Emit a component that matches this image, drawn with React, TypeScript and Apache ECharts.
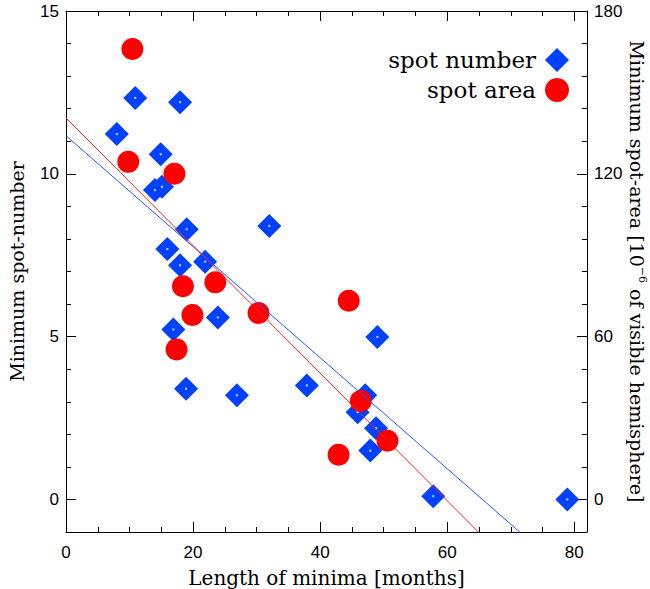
import React, { useEffect, useRef } from "react";
import * as echarts from "echarts";

// Length of minima [months] and minimum spot-number (blue diamonds)
const spotNumberX = [8.0, 10.9, 17.95, 14.9, 14.0, 15.1, 19.0, 15.95, 17.95, 21.9, 32.0, 16.9, 23.9, 18.9, 26.9, 37.9, 49.0, 47.1, 45.9, 48.8, 47.9, 57.8, 78.9];
const spotNumberY = [11.22, 12.33, 12.2, 10.6, 9.5, 9.6, 8.3, 7.69, 7.19, 7.3, 8.4, 5.22, 5.59, 3.4, 3.2, 3.5, 4.99, 3.2, 2.68, 2.19, 1.5, 0.1, 0.0];

// Length of minima and minimum spot-area [1e-6 hemisphere] (red circles)
const spotAreaX = [10.45, 9.8, 17.06, 18.4, 23.5, 19.9, 17.4, 30.3, 44.5, 46.4, 50.6, 42.9];
const spotAreaY = [166, 124.4, 120, 78.6, 80, 68, 55.3, 68.7, 73.2, 36.3, 21.6, 16.5];

// Linear fits (endpoints)
const numberFit = [[0, 11.17], [71.4, -1]];
const areaFit = [[0, 140.6], [64.9, -12]];

const leftTicks = [0, 5, 10, 15];
const rightTicks = [0, 60, 120, 180];

const serif = "DejaVu Serif";
const sans = "Liberation Sans";

export default function App() {
  const ref = useRef<HTMLDivElement>(null);
  useEffect(() => {
    if (!ref.current) return;
    const chart = echarts.init(ref.current, undefined, { renderer: "svg" });
    const numberData = spotNumberX.map((x, i) => [x, spotNumberY[i]]);
    const areaData = spotAreaX.map((x, i) => [x, spotAreaY[i]]);
    const axisLine = { show: true, onZero: false, lineStyle: { color: "#000", width: 1 } };
    const labelStyle = { fontFamily: sans, fontSize: 17, color: "#000" };
    const nameStyle = { fontFamily: serif, fontSize: 19, color: "#000" };
    chart.setOption({
      animation: false,
      backgroundColor: "#fff",
      grid: { left: 66, right: 63, top: 11, bottom: 57, containLabel: false, outerBoundsMode: "none" },
      legend: {
        data: ["spot number", "spot area"],
        orient: "vertical",
        align: "right",
        right: 76,
        top: 43,
        itemWidth: 24,
        itemHeight: 24,
        itemGap: 6,
        textStyle: { fontFamily: serif, fontSize: 23, color: "#000", padding: [0, 4, 0, 0] },
      },
      xAxis: [
        {
          type: "value",
          position: "bottom",
          min: 0,
          max: 82,
          interval: 20,
          axisLine,
          axisTick: { inside: true, length: 10, lineStyle: { color: "#000" } },
          minorTick: { show: true, splitNumber: 4, length: 5, lineStyle: { color: "#000" } },
          axisLabel: { ...labelStyle, margin: 12, showMaxLabel: false },
          splitLine: { show: false },
          name: "Length of minima [months]",
          nameLocation: "middle",
          nameGap: 36,
          nameTextStyle: { ...nameStyle, fontSize: 20 },
        },
        {
          type: "value",
          position: "top",
          min: 0,
          max: 82,
          interval: 20,
          axisLine,
          axisTick: { inside: true, length: 10, lineStyle: { color: "#000" } },
          minorTick: { show: true, splitNumber: 4, length: 5, lineStyle: { color: "#000" } },
          axisLabel: { show: false },
          splitLine: { show: false },
        },
      ],
      yAxis: [
        {
          type: "value",
          position: "left",
          min: -1,
          max: 15,
          axisLine,
          axisTick: { inside: true, length: 10, customValues: leftTicks, lineStyle: { color: "#000" } },
          axisLabel: { ...labelStyle, margin: 7, customValues: leftTicks },
          splitLine: { show: false },
          name: "Minimum spot-number",
          nameLocation: "middle",
          nameGap: 40,
          nameTextStyle: nameStyle,
        },
        {
          type: "value",
          position: "right",
          min: -12,
          max: 180,
          axisLine,
          axisTick: { inside: true, length: 10, customValues: rightTicks, lineStyle: { color: "#000" } },
          axisLabel: { ...labelStyle, margin: 7, customValues: rightTicks },
          splitLine: { show: false },
          name: "Minimum spot-area [10{sup|−6} of visible hemisphere]",
          nameLocation: "middle",
          nameRotate: -90,
          nameGap: 39,
          nameMoveOverlap: false,
          nameTextStyle: {
            ...nameStyle,
            lineHeight: 22,
            rich: {
              sup: { fontFamily: serif, fontSize: 11, lineHeight: 11, verticalAlign: "top", color: "#000" },
            },
          },
        },
        {
          type: "value",
          position: "left",
          min: -1,
          max: 15,
          interval: 1,
          axisLine: { show: false, onZero: false },
          axisTick: { inside: true, length: 5, lineStyle: { color: "#000" } },
          axisLabel: { show: false },
          splitLine: { show: false },
        },
        {
          type: "value",
          position: "right",
          min: -12,
          max: 180,
          interval: 12,
          axisLine: { show: false, onZero: false },
          axisTick: { inside: true, length: 5, lineStyle: { color: "#000" } },
          axisLabel: { show: false },
          splitLine: { show: false },
        },
      ],
      series: [
        {
          name: "spot number",
          type: "scatter",
          xAxisIndex: 0,
          yAxisIndex: 0,
          symbol: "diamond",
          symbolSize: 24,
          itemStyle: { color: "#0040ff", opacity: 1 },
          data: numberData,
          z: 2,
        },
        {
          name: "dots",
          type: "scatter",
          xAxisIndex: 0,
          yAxisIndex: 0,
          symbol: "rect",
          symbolSize: 2,
          itemStyle: { color: "#ffffff" },
          data: numberData,
          silent: true,
          z: 3,
        },
        {
          name: "spot area",
          type: "scatter",
          xAxisIndex: 0,
          yAxisIndex: 1,
          symbol: "circle",
          symbolSize: 22,
          itemStyle: { color: "#ff0000", opacity: 1 },
          data: areaData,
          z: 4,
        },
        {
          name: "number fit",
          type: "line",
          xAxisIndex: 0,
          yAxisIndex: 0,
          showSymbol: false,
          symbol: "none",
          lineStyle: { color: "#2255ff", width: 1 },
          data: numberFit,
          z: 5,
          silent: true,
        },
        {
          name: "area fit",
          type: "line",
          xAxisIndex: 0,
          yAxisIndex: 1,
          showSymbol: false,
          symbol: "none",
          lineStyle: { color: "#ff2020", width: 1 },
          data: areaFit,
          z: 5,
          silent: true,
        },
      ],
    });
    return () => chart.dispose();
  }, []);
  return (
    <div
      ref={ref}
      style={{ position: "fixed", left: 0, top: 0, width: 650, height: 589, background: "#fff" }}
    />
  );
}
